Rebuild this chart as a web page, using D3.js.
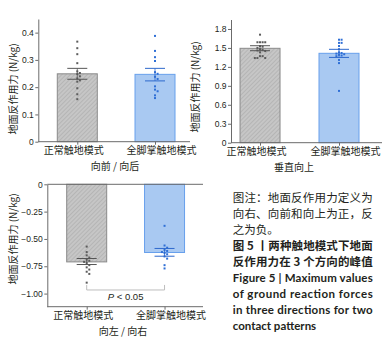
<!DOCTYPE html>
<html>
<head>
<meta charset="utf-8">
<script src="https://cdn.jsdelivr.net/npm/d3@7"></script>
<style>
body { margin: 0; background: #fff; }
svg { display: block; font-family: "Noto Sans CJK SC", sans-serif; }
</style>
</head>
<body>
<div id="chart"></div>
<script>
// Categories (contact patterns)
const categories = ["正常触地模式", "全脚掌触地模式"];

// Anterior / posterior (向前 / 向后)
const apMean = [0.249, 0.247];
const apLow = [0.229, 0.223];
const apHigh = [0.269, 0.269];
const apNormal = [0.367, 0.343, 0.321, 0.288, 0.258, 0.252, 0.248, 0.240, 0.232, 0.225, 0.220, 0.196, 0.174, 0.156];
const apFull = [0.388, 0.333, 0.310, 0.296, 0.255, 0.249, 0.238, 0.230, 0.203, 0.191, 0.185, 0.170, 0.160];
const apTicks = [0, 0.1, 0.2, 0.3, 0.4];
const apTickLabels = ["0", "0.1", "0.2", "0.3", "0.4"];

// Vertical (垂直向上)
const vtMean = [1.494, 1.415];
const vtLow = [1.456, 1.350];
const vtHigh = [1.535, 1.478];
const vtNormal = [1.71, 1.59, 1.59, 1.59, 1.59, 1.53, 1.52, 1.50, 1.48, 1.47, 1.46, 1.45, 1.43, 1.37, 1.37, 1.34, 1.34, 1.34];
const vtFull = [1.63, 1.63, 1.58, 1.58, 1.53, 1.48, 1.43, 1.42, 1.41, 1.40, 1.39, 1.38, 1.37, 1.31, 1.26, 0.82];
const vtTicks = [0, 0.3, 0.6, 0.9, 1.2, 1.5, 1.8];
const vtTickLabels = ["0", "0.3", "0.6", "0.9", "1.2", "1.5", "1.8"];

// Medial / lateral (向左 / 向右)
const mlMean = [-0.710, -0.624];
const mlLow = [-0.734, -0.658];
const mlHigh = [-0.679, -0.587];
const mlNormal = [-0.57, -0.62, -0.65, -0.67, -0.69, -0.70, -0.71, -0.72, -0.74, -0.76, -0.78, -0.80, -0.82, -0.90];
const mlFull = [-0.38, -0.56, -0.58, -0.60, -0.61, -0.62, -0.63, -0.64, -0.66, -0.68, -0.74, -0.77];
const mlTicks = [0, -0.25, -0.5, -0.75, -1];
const mlTickLabels = ["0", "−0.25", "−0.50", "−0.75", "−1.00"];

const captionNote = ["图注：地面反作用力定义为", "向右、向前和向上为正，反", "之为负。"];
const captionCn = ["图 5 丨两种触地模式下地面", "反作用力在 3 个方向的峰值"];
const captionEn = ["Figure 5 | Maximum values", "of ground reaction forces", "in three directions for two", "contact patterns"];

const W = 383, H = 351;
const svg = d3.select("#chart").append("svg")
    .attr("width", W)
    .attr("height", H);

// hatch pattern for the grey bars
const defs = svg.append("defs");
const pat = defs.append("pattern")
    .attr("id", "hatch")
    .attr("width", 3)
    .attr("height", 3)
    .attr("patternUnits", "userSpaceOnUse")
    .attr("patternTransform", "rotate(45)");
pat.append("rect").attr("width", 3).attr("height", 3).attr("fill", "#c6c6c6");
pat.append("line").attr("x1", 0).attr("y1", 0).attr("x2", 0).attr("y2", 3)
    .attr("stroke", "#a9a9a9").attr("stroke-width", 1.2);

const styles = [
    { fill: "url(#hatch)", stroke: "#8a8a8a", dot: "#5c5c5c", err: "#555" },
    { fill: "#a9c9f2", stroke: "#68a0ec", dot: "#2f6fd6", err: "#2d68cc" }
];

// simple beeswarm so equal values spread sideways
function swarm(values, y, cx) {
    const placed = [];
    values.slice().sort((a, b) => b - a).forEach(v => {
        const py = y(v);
        let k = 0, px;
        while (true) {
            const off = (k === 0 ? 0 : Math.ceil(k / 2) * (k % 2 ? 2.6 : -2.6));
            px = cx + off;
            const hit = placed.some(p => Math.abs(p.x - px) < 2.4 && Math.abs(p.y - py) < 2.4);
            if (!hit) break;
            k++;
        }
        placed.push({ x: px, y: py });
    });
    return placed;
}

function drawPanel(cfg) {
    const g = svg.append("g");
    const x = d3.scalePoint().domain(categories)
        .range([cfg.x0, cfg.x1]).padding(cfg.pad).align(cfg.align);
    const y = d3.scaleLinear().domain(cfg.domain).range([cfg.yBottom, cfg.yTop]);
    const bw = 40;

    categories.forEach((c, i) => {
        const s = styles[i];
        const cx = x(c);
        g.append("rect")
            .attr("x", cx - bw / 2)
            .attr("y", Math.min(y(cfg.mean[i]), y(0)))
            .attr("width", bw)
            .attr("height", Math.abs(y(cfg.mean[i]) - y(0)))
            .attr("fill", s.fill)
            .attr("stroke", s.stroke)
            .attr("stroke-width", 1);

        swarm(cfg.points[i], y, cx).forEach(p => {
            g.append("rect")
                .attr("x", p.x - 1).attr("y", p.y - 1)
                .attr("width", 2).attr("height", 2)
                .attr("fill", s.dot);
        });

        // error bar
        g.append("line")
            .attr("x1", cx).attr("x2", cx)
            .attr("y1", y(cfg.low[i])).attr("y2", y(cfg.high[i]))
            .attr("stroke", s.err).attr("stroke-width", 0.8);
        [cfg.low[i], cfg.high[i]].forEach(v => {
            g.append("line")
                .attr("x1", cx - 10).attr("x2", cx + 10)
                .attr("y1", y(v)).attr("y2", y(v))
                .attr("stroke", s.err).attr("stroke-width", 1);
        });
    });

    // y axis
    const ya = g.append("g")
        .attr("transform", `translate(${cfg.x0},0)`)
        .call(d3.axisLeft(y).tickValues(cfg.ticks)
            .tickFormat((d, i) => cfg.tickLabels[i])
            .tickSize(3).tickSizeOuter(0));
    ya.select(".domain").attr("stroke", "#6b6b6b");
    ya.selectAll(".tick line").attr("stroke", "#6b6b6b");
    ya.selectAll("text")
        .attr("font-family", "'Liberation Sans', Arial, sans-serif")
        .attr("font-size", 8.5)
        .attr("fill", "#231f20")
        .attr("x", -4.5);

    // x axis at the bottom of the plot
    const xa = g.append("g")
        .attr("transform", `translate(0,${cfg.yBottom})`)
        .call(d3.axisBottom(x).tickSize(3).tickSizeOuter(0));
    xa.select(".domain").attr("stroke", "#6b6b6b").attr("d", `M${cfg.x0},0H${cfg.x1}`);
    xa.selectAll(".tick line").attr("stroke", "#6b6b6b");
    xa.selectAll("text")
        .attr("font-family", "'Noto Sans CJK SC', sans-serif")
        .attr("font-size", 10)
        .attr("fill", "#231f20")
        .attr("y", 5)
        .attr("dx", (d, i) => i === 0 ? -4 : 6);

    if (cfg.topLine) {
        g.append("line")
            .attr("x1", cfg.x0).attr("x2", cfg.x1)
            .attr("y1", y(0)).attr("y2", y(0))
            .attr("stroke", "#6b6b6b").attr("stroke-width", 1);
    }

    // axis title below
    g.append("text")
        .attr("x", cfg.titleX)
        .attr("y", cfg.yBottom + 28)
        .attr("text-anchor", "middle")
        .attr("font-size", 10)
        .attr("fill", "#231f20")
        .text(cfg.title);

    // y label
    g.append("text")
        .attr("transform", `translate(${cfg.labelX},${cfg.labelY}) rotate(-90)`)
        .attr("text-anchor", "middle")
        .attr("dominant-baseline", "central")
        .attr("font-size", 10)
        .attr("fill", "#231f20")
        .text("地面反作用力 (N/kg)");

    return { x, y, g };
}

drawPanel({
    x0: 38.3, x1: 190, pad: 0.476, align: 0.527,
    domain: [0, 0.45], yBottom: 141.7, yTop: 19,
    mean: apMean, low: apLow, high: apHigh, points: [apNormal, apFull],
    ticks: apTicks, tickLabels: apTickLabels,
    title: "向前 / 向后", titleX: 115, labelX: 12, labelY: 89
});

drawPanel({
    x0: 231, x1: 382, pad: 0.456, align: 0.403,
    domain: [0, 1.95], yBottom: 142.7, yTop: 19.5,
    mean: vtMean, low: vtLow, high: vtHigh, points: [vtNormal, vtFull],
    ticks: vtTicks, tickLabels: vtTickLabels,
    title: "垂直向上", titleX: 294, labelX: 194, labelY: 87
});

const p3 = drawPanel({
    x0: 47.3, x1: 203, pad: 0.5, align: 0.506,
    domain: [-1.12, 0], yBottom: 306.7, yTop: 184.3,
    mean: mlMean, low: mlLow, high: mlHigh, points: [mlNormal, mlFull],
    ticks: mlTicks, tickLabels: mlTickLabels, topLine: true,
    title: "向左 / 向右", titleX: 123, labelX: 12, labelY: 239
});

// significance bracket in the lateral panel
const bx1 = p3.x(categories[0]), bx2 = p3.x(categories[1]);
const byTop = p3.y(-0.921), byBot = p3.y(-0.967);
p3.g.append("path")
    .attr("d", `M${bx1},${byTop}V${byBot}H${bx2}V${byTop}`)
    .attr("fill", "none")
    .attr("stroke", "#bdbdbd")
    .attr("stroke-width", 1);
const pt = p3.g.append("text")
    .attr("x", (bx1 + bx2) / 2)
    .attr("y", byBot + 10.5)
    .attr("text-anchor", "middle")
    .attr("font-family", "'Liberation Sans', Arial, sans-serif")
    .attr("font-size", 9.5)
    .attr("fill", "#231f20");
pt.append("tspan").attr("font-style", "italic").text("P");
pt.append("tspan").text(" < 0.05");

// caption block
const cap = svg.append("g");
const capX = 232.7, capW = 140, lineH = 16.1;
let cy = 201.5;
captionNote.forEach((t, i) => {
    const tx = cap.append("text")
        .attr("x", capX).attr("y", cy)
        .attr("font-size", 11.5)
        .attr("fill", "#231f20")
        .text(t);
    if (i < captionNote.length - 1) tx.attr("textLength", capW).attr("lengthAdjust", "spacing");
    cy += lineH;
});
captionCn.forEach(t => {
    cap.append("text")
        .attr("x", capX).attr("y", cy)
        .attr("font-size", 11.5)
        .attr("font-weight", "bold")
        .attr("fill", "#231f20")
        .attr("textLength", capW).attr("lengthAdjust", "spacing")
        .text(t);
    cy += lineH;
});
captionEn.forEach((t, i) => {
    const tx = cap.append("text")
        .attr("x", capX).attr("y", cy)
        .attr("font-family", "Lato, 'Open Sans', sans-serif")
        .attr("font-size", 11.5)
        .attr("font-weight", "bold")
        .attr("fill", "#231f20")
        .text(t);
    if (i < captionEn.length - 1) tx.attr("textLength", capW).attr("lengthAdjust", "spacing");
    cy += lineH;
});
</script>
</body>
</html>
